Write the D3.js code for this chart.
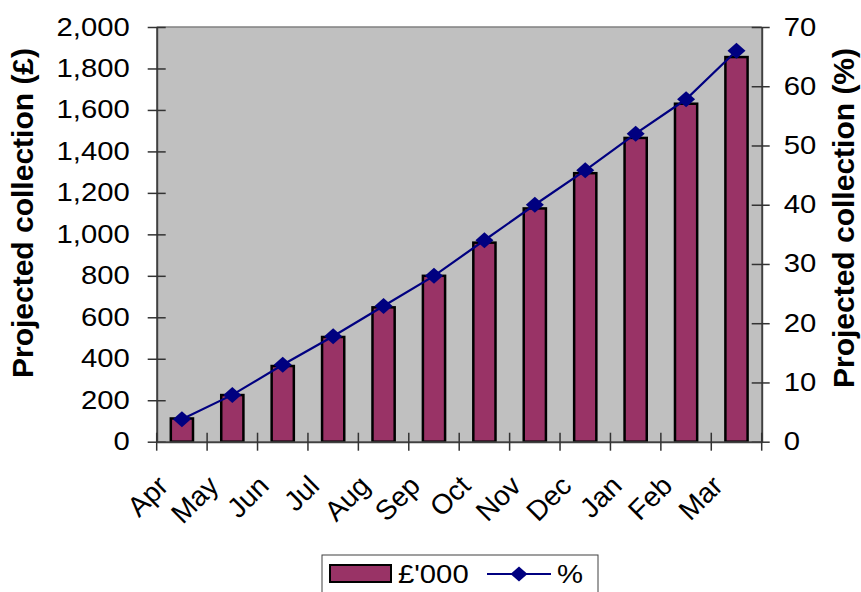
<html>
<meta http-equiv="content-type" content="text/html; charset=UTF8">
<style>
  body {margin:0; background:#fff;}
  text {font-family: "Liberation Sans", Arial, sans-serif;}
</style>
<body>
<svg id="svg1" width="861" height="592"></svg>

<script src="https://cdn.jsdelivr.net/npm/d3@7"></script>
<script>
var months=["Apr","May","Jun","Jul","Aug","Sep","Oct","Nov","Dec","Jan","Feb","Mar"];
var pounds=[112,225,365,505,648,800,960,1125,1295,1465,1630,1855];
var percent=[3.8,7.9,13,17.8,22.9,28,34,40,45.8,52,57.8,66];
var leftTicks=[0,200,400,600,800,1000,1200,1400,1600,1800,2000];
var rightTicks=[0,10,20,30,40,50,60,70];

var pL=156.7,pR=761.7,pT=27,pB=441.7;
var svg=d3.select("#svg1");

var x=d3.scaleBand().domain(months).range([pL,pR]).paddingInner(0).paddingOuter(0);
var yl=d3.scaleLinear().domain([0,2000]).range([pB,pT]);
var yr=d3.scaleLinear().domain([0,70]).range([pB,pT]);
var barw=x.bandwidth()*0.44;
var cx=function(i){return x(months[i])+x.bandwidth()/2};

// stretch text horizontally a bit, the reference glyphs are wider than tall
var widen=function(sel,k){
  sel.each(function(){
    var w=this.getComputedTextLength();
    d3.select(this).attr("textLength",w*k).attr("lengthAdjust","spacingAndGlyphs");
  });
};

// plot area
svg.append("rect").attr("x",pL).attr("y",pT)
  .attr("width",pR-pL).attr("height",pB-pT)
  .style("fill","#c0c0c0");
svg.append("line").attr("x1",pL).attr("x2",pR).attr("y1",pT).attr("y2",pT)
  .style("stroke","#808080").style("stroke-width",1.5);

// bars
svg.selectAll("rect.bar").data(pounds).enter().append("rect")
  .attr("class","bar")
  .attr("x",function(d,i){return cx(i)-barw/2})
  .attr("y",function(d){return yl(d)})
  .attr("width",barw)
  .attr("height",function(d){return yl(0)-yl(d)})
  .style("fill","#993366").style("stroke","#000").style("stroke-width",2.5);

// axes
var fs="25px";
var gl=svg.append("g").attr("transform","translate("+pL+",0)")
  .call(d3.axisLeft(yl).tickValues(leftTicks).tickFormat(d3.format(",")).tickSizeOuter(0).tickPadding(21));
gl.selectAll(".tick line").attr("x1",-9).attr("x2",9);
var gr=svg.append("g").attr("transform","translate("+pR+",0)")
  .call(d3.axisRight(yr).tickValues(rightTicks).tickSizeOuter(0).tickPadding(16));
gr.selectAll(".tick line").attr("x1",-10).attr("x2",8);
var gb=svg.append("g").attr("transform","translate(0,"+pB+")")
  .call(d3.axisBottom(x).tickSize(0).tickFormat(""));
var bounds=d3.range(months.length+1).map(function(i){return pL+i*x.step()});
gb.selectAll("line.b").data(bounds).enter().append("line").attr("class","b")
  .attr("x1",function(d){return d}).attr("x2",function(d){return d})
  .attr("y1",-9).attr("y2",9).style("stroke","#333").style("stroke-width",1.5);

[gl,gr,gb].forEach(function(g){
  g.select(".domain").style("stroke","#404040").style("stroke-width",2);
  g.selectAll(".tick line").style("stroke","#333").style("stroke-width",1.5);
  g.selectAll("text").style("font-size",fs).style("fill","#000")
    .style("font-family","'Liberation Sans', Arial, sans-serif");
  widen(g.selectAll("text"),1.17);
});

// month labels
svg.selectAll("text.mon").data(months).enter().append("text")
  .attr("class","mon")
  .attr("transform",function(d,i){return "translate("+(cx(i)-27)+","+(pB+31)+") rotate(-45)"})
  .attr("text-anchor","end").attr("dy","0.75em")
  .style("font-size","28px")
  .text(function(d){return d});

// line + markers
var line=d3.line().x(function(d,i){return cx(i)}).y(function(d){return yr(d)});
svg.append("path").datum(percent).attr("d",line)
  .style("fill","none").style("stroke","#000080").style("stroke-width",2.2);
svg.selectAll("path.mk").data(percent).enter().append("path")
  .attr("class","mk")
  .attr("d","M0,-8L9,0L0,8L-9,0Z")
  .attr("transform",function(d,i){return "translate("+cx(i)+","+yr(d)+")"})
  .style("fill","#000080");

// axis titles
svg.append("text").attr("transform","translate(33,213) rotate(-90)")
  .attr("text-anchor","middle").style("font-size","30px").style("font-weight","bold")
  .text("Projected collection (£)");
svg.append("text").attr("transform","translate(854,218) rotate(-90)")
  .attr("text-anchor","middle").style("font-size","30px").style("font-weight","bold")
  .text("Projected collection (%)");

// legend
var lg=svg.append("g");
lg.append("rect").attr("x",322).attr("y",555).attr("width",276).attr("height",50)
  .style("fill","#fff").style("stroke","#404040").style("stroke-width",1);
lg.append("rect").attr("x",330).attr("y",565).attr("width",61).attr("height",17)
  .style("fill","#993366").style("stroke","#000").style("stroke-width",2);
lg.append("text").attr("x",398).attr("y",583).style("font-size",fs).text("£'000");
lg.append("line").attr("x1",487).attr("x2",551).attr("y1",574).attr("y2",574)
  .style("stroke","#000080").style("stroke-width",2);
lg.append("path").attr("d","M0,-7.5L8.5,0L0,7.5L-8.5,0Z").attr("transform","translate(519,574)")
  .style("fill","#000080");
lg.append("text").attr("x",557).attr("y",583).style("font-size",fs).text("%");
widen(lg.selectAll("text"),1.17);
</script>
</html>
